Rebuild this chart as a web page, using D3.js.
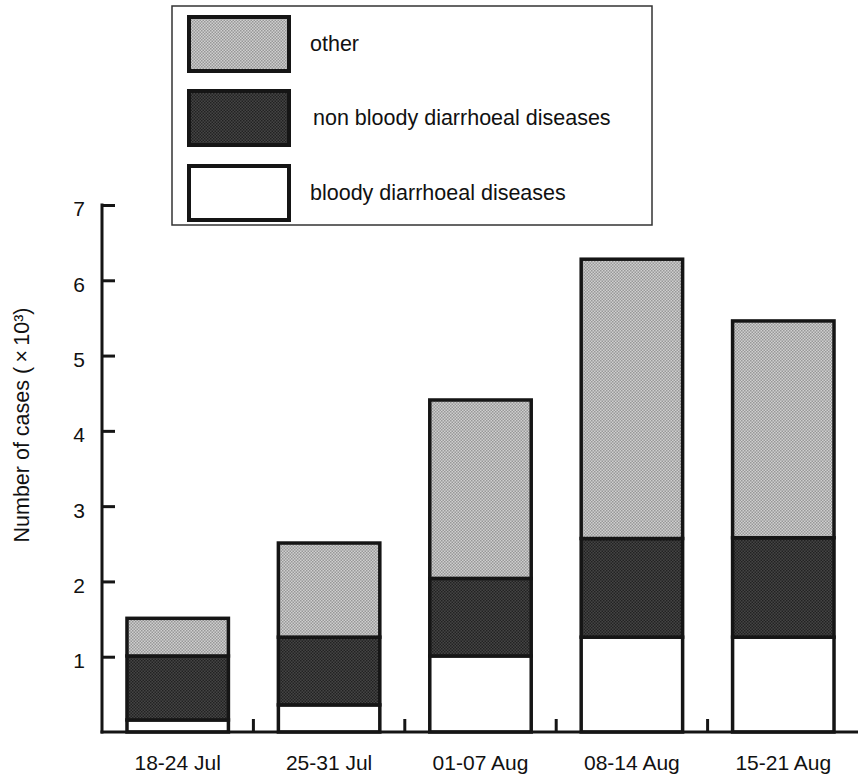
<!DOCTYPE html>
<html>
<head>
<meta charset="utf-8">
<script src="https://cdn.jsdelivr.net/npm/d3@7"></script>
<style>
  body { margin: 0; background: #fff; }
  text { font-family: "Liberation Sans", Arial, sans-serif; fill: #111; }
</style>
</head>
<body>
<div id="chart"></div>
<script>
// weeks and case counts (x 10^3)
const weeks = ["18-24 Jul", "25-31 Jul", "01-07 Aug", "08-14 Aug", "15-21 Aug"];
const bloody = [0.16, 0.36, 1.01, 1.26, 1.26];
const nonBloody = [0.85, 0.90, 1.03, 1.31, 1.32];
const other = [0.50, 1.25, 2.37, 3.71, 2.88];
const yTicks = [1, 2, 3, 4, 5, 6, 7];

const seriesKeys = ["bloody", "nonBloody", "other"];
const legendLabels = ["other", "non bloody diarrhoeal diseases", "bloody diarrhoeal diseases"];
const legendKeys = ["other", "nonBloody", "bloody"];

const width = 858, height = 774;

const svg = d3.select("#chart")
  .append("svg")
    .attr("width", width)
    .attr("height", height);

// halftone-ish fills
const defs = svg.append("defs");
function stipple(id, a, b) {
  const p = defs.append("pattern")
    .attr("id", id)
    .attr("width", 3).attr("height", 3)
    .attr("patternUnits", "userSpaceOnUse");
  p.append("rect").attr("width", 3).attr("height", 3).attr("fill", a);
  p.append("rect").attr("x", 0).attr("y", 0).attr("width", 1.5).attr("height", 1.5).attr("fill", b);
  p.append("rect").attr("x", 1.5).attr("y", 1.5).attr("width", 1.5).attr("height", 1.5).attr("fill", b);
}
stipple("lightDots", "#cfcfcf", "#989898");
stipple("darkDots", "#454545", "#222222");

const fills = {
  bloody: "#ffffff",
  nonBloody: "url(#darkDots)",
  other: "url(#lightDots)"
};

const table = weeks.map((w, i) => ({
  week: w, bloody: bloody[i], nonBloody: nonBloody[i], other: other[i]
}));
const stacked = d3.stack().keys(seriesKeys)(table);

const axisX = 102;

const xScale = d3.scaleBand()
  .domain(weeks)
  .range([axisX, 859])
  .paddingInner(0.33)
  .paddingOuter(0.165);

const yScale = d3.scaleLinear()
  .domain([0, 7])
  .range([732, 205]);

// bars
svg.append("g")
  .selectAll("g")
  .data(stacked)
  .join("g")
    .attr("fill", d => fills[d.key])
  .selectAll("rect")
  .data(d => d)
  .join("rect")
    .attr("x", d => xScale(d.data.week))
    .attr("y", d => yScale(d[1]))
    .attr("width", xScale.bandwidth())
    .attr("height", d => yScale(d[0]) - yScale(d[1]))
    .attr("stroke", "#151515")
    .attr("stroke-width", 3.5);

// y axis
const yAxis = svg.append("g")
  .attr("transform", `translate(${axisX},0)`)
  .call(d3.axisLeft(yScale)
    .tickValues(yTicks)
    .tickSize(-13)
    .tickSizeOuter(0)
    .tickPadding(17)
    .tickFormat(d3.format("d")));
yAxis.select(".domain")
  .attr("stroke", "#151515")
  .attr("stroke-width", 3)
  .attr("d", `M0,${yScale(0) + 1.5}V${yScale(7) - 1.5}`);
yAxis.selectAll(".tick line").attr("stroke", "#151515").attr("stroke-width", 3);
yAxis.selectAll(".tick text")
  .style("font-family", '"Liberation Sans", Arial, sans-serif')
  .style("font-size", "21px")
  .attr("dy", "0.52em")
  .attr("fill", "#111");

// x axis: baseline with small ticks between the weeks
svg.append("line")
  .attr("x1", axisX - 1.5).attr("x2", 858)
  .attr("y1", yScale(0)).attr("y2", yScale(0))
  .attr("stroke", "#151515")
  .attr("stroke-width", 3);

const gap = xScale.step() - xScale.bandwidth();
svg.append("g")
  .selectAll("line")
  .data(weeks.slice(1))
  .join("line")
    .attr("x1", d => xScale(d) - gap / 2)
    .attr("x2", d => xScale(d) - gap / 2)
    .attr("y1", yScale(0))
    .attr("y2", yScale(0) - 13)
    .attr("stroke", "#151515")
    .attr("stroke-width", 3);

svg.append("g")
  .selectAll("text")
  .data(weeks)
  .join("text")
    .attr("x", d => xScale(d) + xScale.bandwidth() / 2)
    .attr("y", 770)
    .attr("text-anchor", "middle")
    .style("font-size", "21px")
    .text(d => d);

// y axis title
svg.append("text")
  .attr("transform", "translate(29,425) rotate(-90)")
  .attr("text-anchor", "middle")
  .style("font-size", "21.5px")
  .text("Number of cases (\u2009\u00d7\u200910\u00b3)");

// legend
const legend = svg.append("g");
legend.append("rect")
  .attr("x", 172).attr("y", 6)
  .attr("width", 480).attr("height", 219)
  .attr("fill", "#fff")
  .attr("stroke", "#333")
  .attr("stroke-width", 1.5);

const legendRows = [17, 91, 166];
legendKeys.forEach((k, i) => {
  legend.append("rect")
    .attr("x", 189).attr("y", legendRows[i])
    .attr("width", 100).attr("height", 54)
    .attr("fill", fills[k])
    .attr("stroke", "#151515")
    .attr("stroke-width", 4);
  legend.append("text")
    .attr("x", i === 1 ? 313 : 310)
    .attr("y", legendRows[i] + 34)
    .style("font-size", "21.5px")
    .text(legendLabels[i]);
});
</script>
</body>
</html>
